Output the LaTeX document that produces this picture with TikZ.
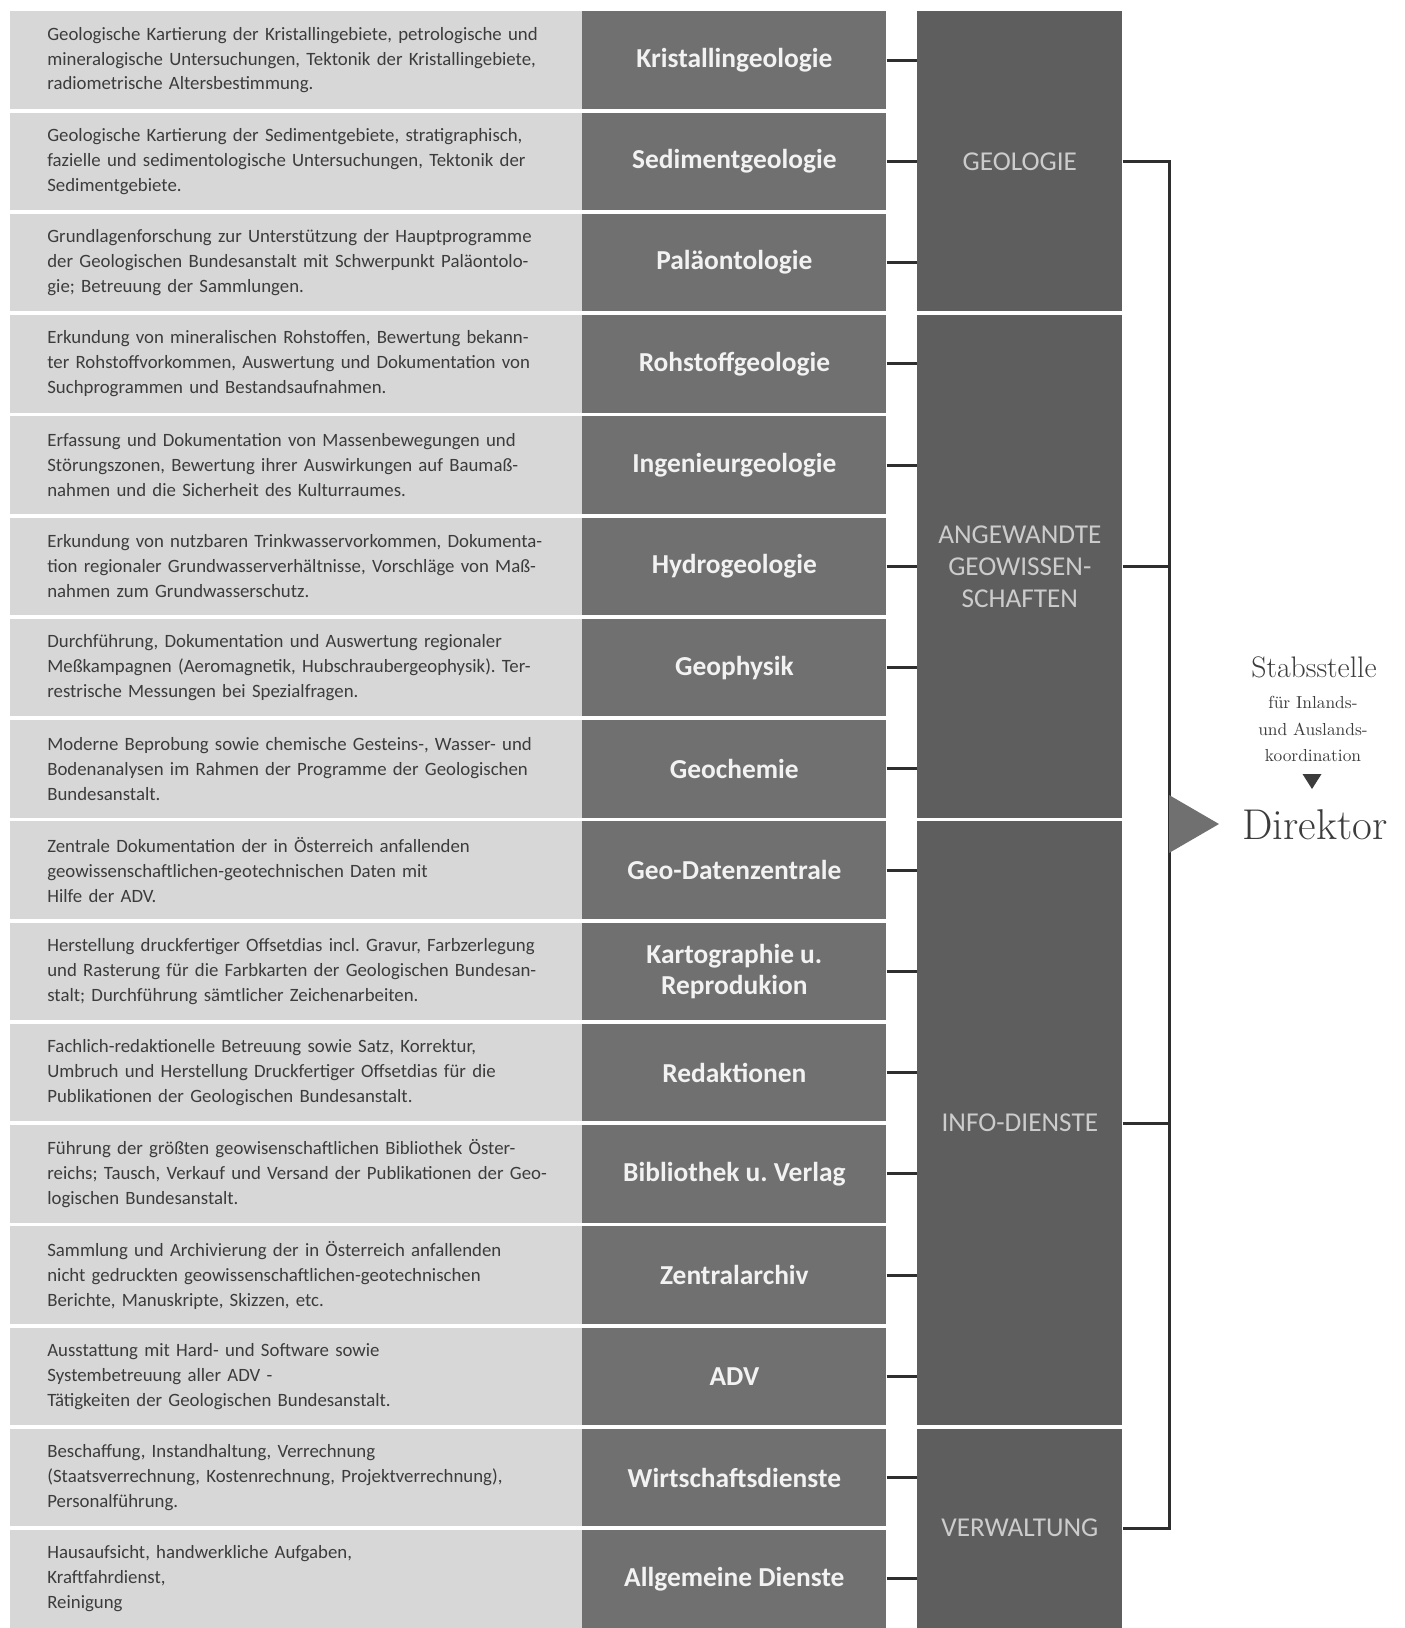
\documentclass[tikz,border=0pt]{standalone}
\usepackage{fontspec}
\setsansfont{Carlito}
\usepackage{xcolor}
\definecolor{hell}{HTML}{D7D7D7}
\definecolor{fach}{HTML}{707070}
\definecolor{gruppe}{HTML}{5E5E5E}
\definecolor{schrift}{HTML}{3C3C3C}
\definecolor{linie}{HTML}{2E2E2E}
\frenchspacing

\begin{document}
\begin{tikzpicture}[
	descbox/.style={fill=hell, anchor=north west, minimum height=1.95cm, text width=10.6cm, inner xsep=.74cm, align=left, text=schrift, font=\sffamily\fontsize{10.7}{14.2}\selectfont},
	fachbox/.style={fill=fach, anchor=north west, minimum width=6.08cm, minimum height=1.95cm, align=center, text=white!95!black, font=\sffamily\bfseries\fontsize{15.6}{18}\selectfont},
	grpbox/.style={fill=gruppe, anchor=north west, minimum width=4.1cm, align=center, text=white!80!black, font=\sffamily\fontsize{15.5}{18.2}\selectfont},
	conn/.style={draw=linie, line width=1.7pt},
]
	\def\pitch{2.025}
	\def\rowh{1.95}
	\useasboundingbox (0,0) rectangle (28.08,-32.56);

	% Abteilungen
	\foreach \g/\a/\b/\lab in {geo/1/3/GEOLOGIE, ang/4/8/{ANGEWANDTE\\GEOWISSEN-\\SCHAFTEN}, info/9/14/INFO-DIENSTE, verw/15/16/VERWALTUNG}{
		\node[grpbox, minimum height={((\b-\a)*\pitch+\rowh)*1cm}] (\g) at (18.34,{-.22-(\a-1)*\pitch}) {\lab};
	}

	% Fachabteilungen mit Aufgaben
	\foreach \fach/\txt/\g [count=\i] in {
		{Kristallingeologie}/{Geologische Kartierung der Kristallingebiete, petrologische und\\mineralogische Untersuchungen, Tektonik der Kristallingebiete,\\radiometrische Altersbestimmung.}/geo,
		{Sedimentgeologie}/{Geologische Kartierung der Sedimentgebiete, stratigraphisch,\\fazielle und sedimentologische Untersuchungen, Tektonik der\\Sedimentgebiete.}/geo,
		{Paläontologie}/{Grundlagenforschung zur Unterstützung der Hauptprogramme\\der Geologischen Bundesanstalt mit Schwerpunkt Paläontolo-\\gie; Betreuung der Sammlungen.}/geo,
		{Rohstoffgeologie}/{Erkundung von mineralischen Rohstoffen, Bewertung bekann-\\ter Rohstoffvorkommen, Auswertung und Dokumentation von\\Suchprogrammen und Bestandsaufnahmen.}/ang,
		{Ingenieurgeologie}/{Erfassung und Dokumentation von Massenbewegungen und\\Störungszonen, Bewertung ihrer Auswirkungen auf Baumaß-\\nahmen und die Sicherheit des Kulturraumes.}/ang,
		{Hydrogeologie}/{Erkundung von nutzbaren Trinkwasservorkommen, Dokumenta-\\tion regionaler Grundwasserverhältnisse, Vorschläge von Maß-\\nahmen zum Grundwasserschutz.}/ang,
		{Geophysik}/{Durchführung, Dokumentation und Auswertung regionaler\\Meßkampagnen (Aeromagnetik, Hubschraubergeophysik). Ter-\\restrische Messungen bei Spezialfragen.}/ang,
		{Geochemie}/{Moderne Beprobung sowie chemische Gesteins-, Wasser- und\\Bodenanalysen im Rahmen der Programme der Geologischen\\Bundesanstalt.}/ang,
		{Geo-Datenzentrale}/{Zentrale Dokumentation der in Österreich anfallenden\\geowissenschaftlichen-geotechnischen Daten mit\\Hilfe der ADV.}/info,
		{Kartographie u.\\Reprodukion}/{Herstellung druckfertiger Offsetdias incl. Gravur, Farbzerlegung\\und Rasterung für die Farbkarten der Geologischen Bundesan-\\stalt; Durchführung sämtlicher Zeichenarbeiten.}/info,
		{Redaktionen}/{Fachlich-redaktionelle Betreuung sowie Satz, Korrektur,\\Umbruch und Herstellung Druckfertiger Offsetdias für die\\Publikationen der Geologischen Bundesanstalt.}/info,
		{Bibliothek u. Verlag}/{Führung der größten geowisenschaftlichen Bibliothek Öster-\\reichs; Tausch, Verkauf und Versand der Publikationen der Geo-\\logischen Bundesanstalt.}/info,
		{Zentralarchiv}/{Sammlung und Archivierung der in Österreich anfallenden\\nicht gedruckten geowissenschaftlichen-geotechnischen\\Berichte, Manuskripte, Skizzen, etc.}/info,
		{ADV}/{Ausstattung mit Hard- und Software sowie\\Systembetreuung aller ADV -\\Tätigkeiten der Geologischen Bundesanstalt.}/info,
		{Wirtschaftsdienste}/{Beschaffung, Instandhaltung, Verrechnung\\(Staatsverrechnung, Kostenrechnung, Projektverrechnung),\\Personalführung.}/verw,
		{Allgemeine Dienste}/{Hausaufsicht, handwerkliche Aufgaben,\\Kraftfahrdienst,\\Reinigung}/verw}{
		\node[descbox] (d\i) at (.2,{-.22-(\i-1)*\pitch}) {\txt};
		\node[fachbox] (f\i) at (11.64,{-.22-(\i-1)*\pitch}) {\fach};
		\draw[conn] (f\i.east) -- (f\i.east -| \g.west);
	}

	% Klammer zum Direktor
	\coordinate (brk) at (23.38,0);
	\draw[conn] (geo.east) -- (geo.east -| brk) -- (verw.east -| brk) -- (verw.east);
	\foreach \g in {ang,info}{
		\draw[conn] (\g.east) -- (\g.east -| brk);
	}
	\coordinate (pfeil) at (23.38,-16.48);
	\fill[fach] ([yshift=.58cm]pfeil) -- ([xshift=1cm]pfeil) -- ([yshift=-.58cm]pfeil) -- cycle;

	\node[text=schrift, font=\fontsize{16.9}{18}\selectfont] (stab) at (26.28,-13.34) {Stabsstelle};
	\node[text=schrift, align=center, font=\fontsize{9.9}{15}\selectfont] (koord) at (26.26,-14.58) {für Inlands-\\und Auslands-\\koordination};
	\fill[schrift] (26.05,-15.48) -- (26.43,-15.48) -- (26.24,-15.78) -- cycle;
	\node[text=schrift, font=\fontsize{24.5}{26}\selectfont] (dir) at (26.3,-16.5) {Direktor};
\end{tikzpicture}
\end{document}
